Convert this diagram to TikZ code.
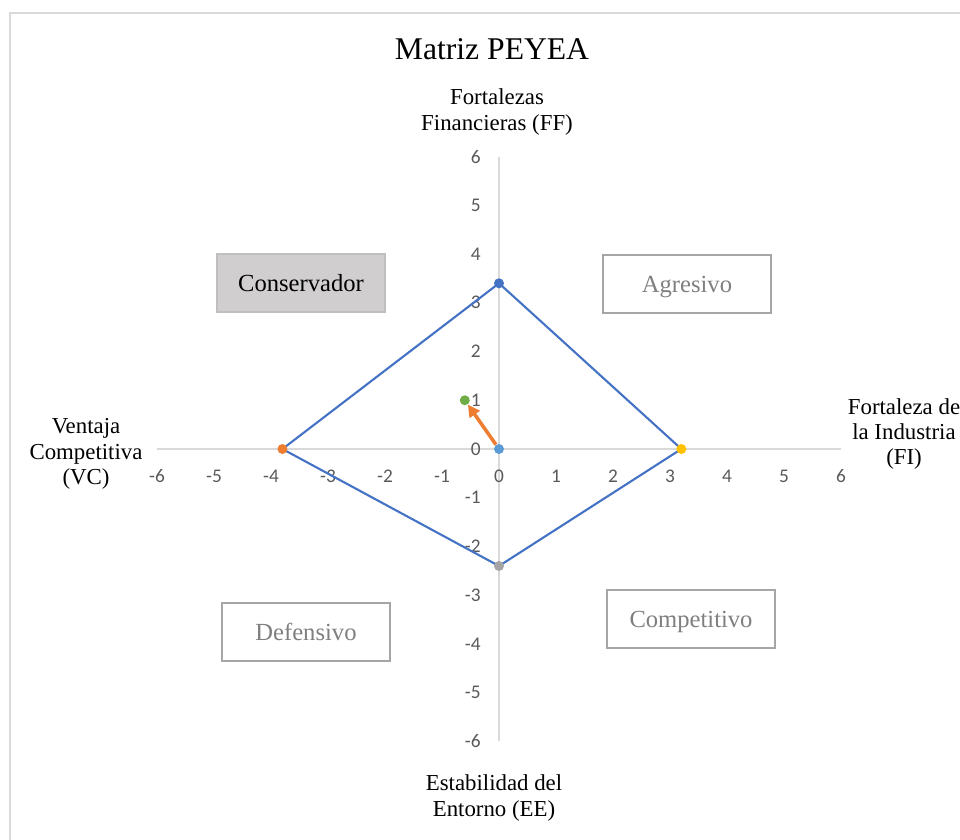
\documentclass[tikz,border=0pt]{standalone}
\usepackage{fontspec}
\setmainfont{Liberation Serif}
\newfontfamily\tickfont{Carlito}
\usetikzlibrary{arrows.meta}
\definecolor{axisgray}{HTML}{D9D9D9}
\definecolor{ticktext}{HTML}{595959}
\definecolor{boxgray}{HTML}{A6A6A6}
\definecolor{quadtext}{HTML}{7F7F7F}
\definecolor{consfill}{HTML}{D0CECE}
\definecolor{consdraw}{HTML}{BFBFBF}
\definecolor{seriesblue}{HTML}{4472C4}
\definecolor{seriesorange}{HTML}{ED7D31}
\definecolor{seriesgray}{HTML}{A5A5A5}
\definecolor{seriesyellow}{HTML}{FFC000}
\definecolor{serieslight}{HTML}{5B9BD5}
\definecolor{seriesgreen}{HTML}{70AD47}
\begin{document}
\begin{tikzpicture}[x=0.02cm,y=-0.02cm,
    axistitle/.style={align=center,font=\fontsize{13}{14.5}\selectfont},
    quadrant/.style={draw=boxgray,line width=1.1pt,minimum width=3.36cm,
      minimum height=1.16cm,text=quadtext,font=\fontsize{14}{16}\selectfont},
    tick/.style={text=ticktext,font=\tickfont\fontsize{11}{13}\selectfont,inner sep=0pt},
    axisline/.style={axisgray,line width=0.8pt},
    dot/.style={circle,inner sep=0pt,minimum size=0.2cm}]
  \useasboundingbox (0,0) rectangle (960,839);
  \clip (0,0) rectangle (960,839);
  \draw[axisline] (10,13) rectangle (980,860);
  \node[font=\fontsize{18}{20}\selectfont] (title) at (492,49) {Matriz PEYEA};
  \node[axistitle] (fflabel) at (497,112) {Fortalezas\\Financieras (FF)};
  \node[axistitle] (vclabel) at (86,454) {Ventaja\\Competitiva\\(VC)};
  \node[axistitle] (filabel) at (904,434) {Fortaleza de\\la Industria\\(FI)};
  \node[axistitle] (eelabel) at (494,798) {Estabilidad del\\Entorno (EE)};
  \node[quadrant,fill=consfill,draw=consdraw,text=black] (cons) at (301,283) {Conservador};
  \node[quadrant,text depth=-0.08cm] (agre) at (687,284) {Agresivo};
  \node[quadrant] (defe) at (306,632) {Defensivo};
  \node[quadrant,text depth=-0.04cm] (comp) at (691,619) {Competitivo};
  \begin{scope}[shift={(499,449)},x=1.14cm,y=0.975cm]
    \coordinate (xmin) at (-6,0);
    \coordinate (xmax) at (6,0);
    \coordinate (ymin) at (0,-6);
    \coordinate (ymax) at (0,6);
    \draw[axisline] (xmin) -- (xmax);
    \draw[axisline] (ymin) -- (ymax);
    \foreach \i in {-6,...,6} {
      \node[tick,yshift=-0.54cm] (xt\i) at (\i,0) {\i};
      \node[tick,anchor=east,xshift=-0.36cm] (yt\i) at (0,\i) {\i};
    }
    \coordinate (ff) at (0,3.4);
    \coordinate (fi) at (3.2,0);
    \coordinate (ee) at (0,-2.4);
    \coordinate (vc) at (-3.8,0);
    \draw[seriesblue,line width=1.2pt,line join=round] (ff) -- (fi) -- (ee) -- (vc) -- cycle;
    \node[dot,fill=seriesblue] (ffdot) at (ff) {};
    \node[dot,fill=seriesyellow] (fidot) at (fi) {};
    \node[dot,fill=seriesgray] (eedot) at (ee) {};
    \node[dot,fill=seriesorange] (vcdot) at (vc) {};
    \node[dot,fill=serieslight] (origdot) at (0,0) {};
    \node[dot,fill=seriesgreen] (vecdot) at (-0.6,1) {};
    \draw[seriesorange,line width=2pt,-{Triangle[length=0.24cm,width=0.24cm]}]
      (origdot) -- (vecdot);
  \end{scope}
\end{tikzpicture}
\end{document}
